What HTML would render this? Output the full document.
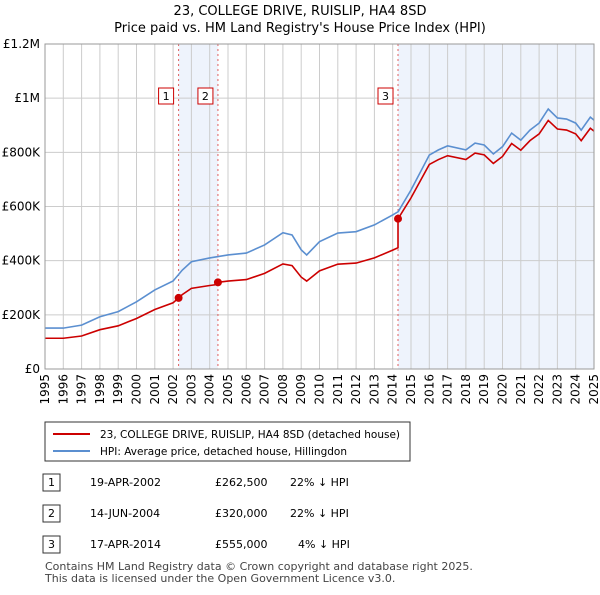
<!DOCTYPE html>
<html><head><meta charset="utf-8"><style>
body{margin:0;background:#fff;font-family:"Liberation Sans","DejaVu Sans",sans-serif;}
svg text{font-family:"DejaVu Sans","Liberation Sans",sans-serif;}
</style></head><body>
<svg id="c" width="600" height="590" xmlns="http://www.w3.org/2000/svg">
<text x="300" y="15" text-anchor="middle" font-size="13">23, COLLEGE DRIVE, RUISLIP, HA4 8SD</text>
<text x="300" y="32" text-anchor="middle" font-size="13">Price paid vs. HM Land Registry's House Price Index (HPI)</text>
<g id="plot"></g>
<g>
<rect x="45" y="422" width="365" height="39" fill="#fff" stroke="#333"/>
<line x1="53" y1="434" x2="90" y2="434" stroke="#cc0000" stroke-width="2"/>
<text x="100" y="438" font-size="10.5">23, COLLEGE DRIVE, RUISLIP, HA4 8SD (detached house)</text>
<line x1="53" y1="451" x2="90" y2="451" stroke="#5b8fd0" stroke-width="2"/>
<text x="100" y="455" font-size="10.5">HPI: Average price, detached house, Hillingdon</text>
</g>
<g font-size="11">
<rect x="43" y="474" width="17" height="17" fill="#fff" stroke="#333"/><text x="51.5" y="486" text-anchor="middle">1</text>
<text x="90" y="486">19-APR-2002</text><text x="215" y="486">£262,500</text><text x="290" y="486">22% ↓ HPI</text>
<rect x="43" y="505" width="17" height="17" fill="#fff" stroke="#333"/><text x="51.5" y="517" text-anchor="middle">2</text>
<text x="90" y="517">14-JUN-2004</text><text x="215" y="517">£320,000</text><text x="290" y="517">22% ↓ HPI</text>
<rect x="43" y="536" width="17" height="17" fill="#fff" stroke="#333"/><text x="51.5" y="548" text-anchor="middle">3</text>
<text x="90" y="548">17-APR-2014</text><text x="215" y="548">£555,000</text><text x="298" y="548">4% ↓ HPI</text>
</g>
<text x="45" y="570" font-size="11" fill="#444">Contains HM Land Registry data © Crown copyright and database right 2025.</text>
<text x="45" y="582" font-size="11" fill="#444">This data is licensed under the Open Government Licence v3.0.</text>
</svg>
<script>
const hpiYears=[1995,1996,1997,1998,1999,2000,2001,2002,2002.5,2003,2004,2005,2006,2007,2008,2008.5,2009,2009.3,2010,2011,2012,2013,2014,2014.3,2015,2016,2016.5,2017,2018,2018.5,2019,2019.5,2020,2020.5,2021,2021.5,2022,2022.5,2023,2023.5,2024,2024.3,2024.8,2025];
const hpiValues=[151000,151000,162000,193000,212000,248000,292000,325000,365000,396000,410000,421000,428000,458000,503000,495000,440000,421000,470000,502000,507000,532000,569000,581000,661000,790000,809000,824000,809000,834000,827000,794000,821000,871000,845000,882000,908000,960000,927000,923000,908000,882000,930000,919000];
const saleYears=[2002.30,2004.45,2014.29];
const salePrices=[262500,320000,555000];
const saleLabels=["1","2","3"];
const yTicks=[0,200000,400000,600000,800000,1000000,1200000];
const yTickLabels=["£0","£200K","£400K","£600K","£800K","£1M","£1.2M"];
const xTicks=[1995,1996,1997,1998,1999,2000,2001,2002,2003,2004,2005,2006,2007,2008,2009,2010,2011,2012,2013,2014,2015,2016,2017,2018,2019,2020,2021,2022,2023,2024,2025];
const X0=45,X1=594,Y0=369,Y1=44;
const xs=y=>X0+(y-1995)/(2025-1995)*(X1-X0);
const ys=v=>Y0-v/1200000*(Y0-Y1);
const NS="http://www.w3.org/2000/svg";
const g=document.getElementById('plot');
function mk(t,a){const e=document.createElementNS(NS,t);for(const k in a)e.setAttribute(k,a[k]);g.appendChild(e);return e;}
for(const [a,b] of [[saleYears[0],saleYears[1]],[saleYears[2],2025]]){
 const r=mk('rect',{x:xs(a),y:Y1,width:xs(b)-xs(a),height:Y0-Y1,fill:'#eef3fc'});
 
 
}
xTicks.forEach(t=>{
 const l=mk('line',{x1:xs(t),x2:xs(t),y1:Y1,y2:Y0,stroke:'#cccccc'});
 
 
 const px=xs(t)+4,py=374;
 const tx=mk('text',{x:px,y:py,'font-size':12,'text-anchor':'end',transform:`rotate(-90 ${px} ${py})`});tx.textContent=t;
 
 
});
yTicks.forEach((t,i)=>{
 const l=mk('line',{x1:X0,x2:X1,y1:ys(t),y2:ys(t),stroke:'#cccccc'});
 
 
 const tx=mk('text',{x:40,y:ys(t)+4,'font-size':12,'text-anchor':'end'});tx.textContent=yTickLabels[i];
 
 
});
saleYears.forEach((s,i)=>{
 const l=mk('line',{x1:xs(s),x2:xs(s),y1:Y1,y2:Y0,stroke:'#e06060','stroke-dasharray':'2,3'});
 
 
 const r=mk('rect',{x:xs(s)-20,y:88,width:15,height:16,fill:'#fff',stroke:'#cc0000'});
 
 
 const t=mk('text',{x:xs(s)-12.5,y:100,'font-size':11,'text-anchor':'middle'});t.textContent=saleLabels[i];
 
 
});
function interp(y){for(let i=0;i<hpiYears.length-1;i++){if(y<=hpiYears[i+1]){const f=(y-hpiYears[i])/(hpiYears[i+1]-hpiYears[i]);return hpiValues[i]+f*(hpiValues[i+1]-hpiValues[i]);}}return hpiValues[hpiValues.length-1];}
const hp=mk('polyline',{points:hpiYears.map((y,i)=>xs(y)+','+ys(hpiValues[i])).join(' '),fill:'none',stroke:'#5b8fd0','stroke-width':1.6});


const pts=[];
const ratio=y=>{let k=0;for(let i=0;i<saleYears.length;i++)if(y>=saleYears[i])k=i;return salePrices[k]/interp(saleYears[k]);};
const allY=[...hpiYears,...saleYears].sort((a,b)=>a-b);
allY.forEach(y=>{
 saleYears.forEach((s,k)=>{if(Math.abs(y-s)<1e-9&&k>0){pts.push([y,interp(y)*salePrices[k-1]/interp(saleYears[k-1])]);}});
 pts.push([y,interp(y)*ratio(y)]);
});
const pp=mk('polyline',{points:pts.map(p=>xs(p[0])+','+ys(p[1])).join(' '),fill:'none',stroke:'#cc0000','stroke-width':1.6});


saleYears.forEach((s,i)=>{
 const c=mk('circle',{cx:xs(s),cy:ys(salePrices[i]),r:4,fill:'#cc0000'});
 
 
});
const ax=mk('rect',{x:X0,y:Y1,width:X1-X0,height:Y0-Y1,fill:'none',stroke:'#999'});


</script>
</body></html>
